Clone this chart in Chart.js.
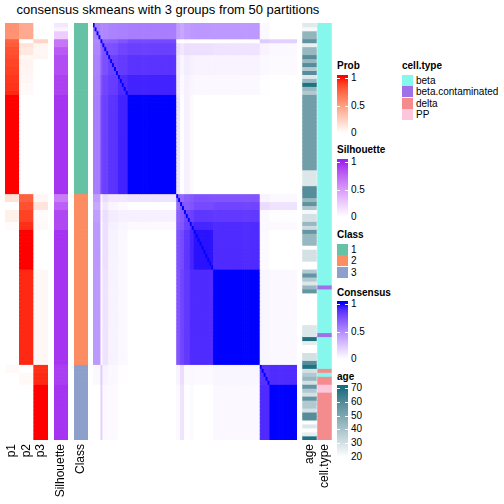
<!DOCTYPE html>
<html>
<head>
<meta charset="utf-8">
<script src="https://cdn.jsdelivr.net/npm/chart.js@4.4.1/dist/chart.umd.min.js"></script>
<style>
  body { margin: 0; background: #fff; font-family: "Liberation Sans", Arial, sans-serif; }
  #wrap { position: relative; width: 504px; height: 504px; overflow: hidden; }
  canvas { position: absolute; }
  .lt { position: absolute; font-size: 10px; font-weight: bold; line-height: 12px; white-space: nowrap; }
  .ll { position: absolute; font-size: 10px; line-height: 12px; white-space: nowrap; }
  .sw { position: absolute; }
</style>
</head>
<body>
<div id="wrap">
  <div style="position:absolute;left:0;top:2px;width:336px;text-align:center;font-size:13px;line-height:15px;">consensus skmeans with 3 groups from 50 partitions</div>
  <canvas id="probChart" width="43" height="481" style="left:5px;top:23px"></canvas>
  <canvas id="silChart" width="14" height="481" style="left:54px;top:23px"></canvas>
  <canvas id="classChart" width="14" height="481" style="left:74px;top:23px"></canvas>
  <canvas id="consensusChart" width="204" height="417" style="left:93px;top:23px"></canvas>
  <canvas id="annoChart" width="30" height="481" style="left:302px;top:23px"></canvas>
</div>
<script>
const rep = (v, n) => Array(n).fill(v);

// membership probabilities per sample (rows in display order)
const p1 = [.56, .56, .56, .56, .78, .8, .84, .84, .86, .88, .88, .9, .9, .92, .92, .93, .93, .95, ...rep(1, 25),
            .15, .15, 0, 0, .08, .08, .08, .02, .02, ...rep(0, 34),
            .03, .03, ...rep(0, 17)];
const p2 = [.44, .44, .44, .44, 0, .15, .12, .12, .04, .06, .06, .05, .05, .04, .04, .03, .03, .02, ...rep(0, 25),
            .78, .78, .84, .84, .89, .89, .89, .94, .94, ...rep(1, 10), ...rep(.95, 24),
            0, 0, .03, .03, .03, ...rep(0, 14)];
const p3 = [0, 0, 0, 0, .22, .05, .04, .04, .05, ...rep(0, 9), ...rep(0, 25),
            .04, .04, .14, .14, .02, .02, .02, .03, .03, ...rep(0, 10), ...rep(.04, 24),
            .94, .94, .95, .95, .95, ...rep(1, 14)];
const silhouette = [.12, .06, .25, .25, .68, .68, .8, .8, ...rep(.86, 5), ...rep(.9, 5), ...rep(.95, 25),
                    .65, .65, .78, .78, ...rep(.88, 5), ...rep(.95, 34),
                    ...rep(.92, 5), ...rep(.95, 14)];
const sampleClass = [...rep(1, 43), ...rep(2, 43), ...rep(3, 19)];
const age = [27, 22, 45, 45, 57, 25, 44, 44, 59, 44, 59, 38, 59, 28, 44, 69, 44, 38, ...rep(53, 19), 28, 28, 28, 28, 59, 59,
             59, 44, 57, 39, 22, 30, 30, 44, 32, 56, 44, 44, 44, 20, 30, 30, 30, 20, 20, 38, 56, 38, 28, 44, 56,
             ...rep(20, 8), 28, 28, 28, 69, 26, 20, 20, 30, 30, 59,
             69, 30, 38, 44, 30, 56, 38, 30, 56, 38, 38, 30, 59, 59, 20, 28, 20, 26, 69];
const cellType = [...rep("beta", 66), "beta.contaminated", ...rep("beta", 11), "beta.contaminated", ...rep("beta", 8),
                  "delta", "beta", "delta", "delta", "PP", "PP", ...rep("delta", 12)];

// consensus between blocks of consecutive samples
const blockSizes = [4, 1, 3, 5, 5, 25, 2, 2, 3, 2, 10, 24, 5, 14];
const blockConsensus = [
  [.55, .5, .52, .54, .55, .56, .42, .38, .42, .44, .45, .44, .03, 0],
  [.5, .8, .68, .7, .74, .78, .03, 0, .02, 0, 0, .01, .22, .2],
  [.52, .68, .75, .76, .8, .82, .15, .1, .14, .13, .13, .12, .05, .03],
  [.54, .7, .76, .82, .84, .87, .1, .04, .08, .06, .05, .05, .03, .02],
  [.55, .74, .8, .84, .9, .93, .1, .02, .06, .04, .03, .03, .01, 0],
  [.56, .78, .82, .87, .93, 1, .12, 0, .06, .02, 0, 0, 0, 0],
  [.42, .03, .15, .1, .1, .12, .7, .65, .7, .72, .75, .74, .05, .03],
  [.38, 0, .1, .04, .02, 0, .65, .75, .72, .74, .78, .8, .15, .12],
  [.42, .02, .14, .08, .06, .06, .7, .72, .8, .82, .86, .85, .03, .01],
  [.44, 0, .13, .06, .04, .02, .72, .74, .82, .88, .92, .9, .03, .02],
  [.45, 0, .13, .05, .03, 0, .75, .78, .86, .92, .97, .9, .02, 0],
  [.44, .01, .12, .05, .03, 0, .74, .8, .85, .9, .9, 1, .04, .03],
  [.03, .22, .05, .03, .01, 0, .05, .15, .03, .03, .02, .04, .88, .9],
  [0, .2, .03, .02, 0, 0, .03, .12, .01, .02, 0, .03, .9, 1]
];

const classColors = {1: "#66C2A5", 2: "#FC8D62", 3: "#8DA0CB"};
const cellTypeColors = {"beta": "#86F7EC", "beta.contaminated": "#A070E8", "delta": "#F48C8E", "PP": "#FDC6DC"};

// LAB colour ramps (like colorRamp2)
function hexToRgb(h) { h = h.replace("#", ""); return [0, 2, 4].map(i => parseInt(h.substr(i, 2), 16)); }
function lin(c) { c /= 255; return c <= 0.04045 ? c / 12.92 : Math.pow((c + 0.055) / 1.055, 2.4); }
function unlin(c) { c = c <= 0.0031308 ? 12.92 * c : 1.055 * Math.pow(c, 1 / 2.4) - 0.055; return Math.round(Math.max(0, Math.min(1, c)) * 255); }
function rgbToLab(rgb) {
  const [r, g, b] = rgb.map(lin);
  const x = (r * 0.4124 + g * 0.3576 + b * 0.1805) / 0.95047, y = r * 0.2126 + g * 0.7152 + b * 0.0722, z = (r * 0.0193 + g * 0.1192 + b * 0.9505) / 1.08883;
  const f = t => t > 0.008856 ? Math.cbrt(t) : 7.787 * t + 16 / 116;
  return [116 * f(y) - 16, 500 * (f(x) - f(y)), 200 * (f(y) - f(z))];
}
function labToRgb([L, a, b]) {
  const fy = (L + 16) / 116, fx = fy + a / 500, fz = fy - b / 200;
  const inv = t => t * t * t > 0.008856 ? t * t * t : (t - 16 / 116) / 7.787;
  const x = inv(fx) * 0.95047, y = inv(fy), z = inv(fz) * 1.08883;
  return [unlin(x * 3.2406 - y * 1.5372 - z * 0.4986), unlin(-x * 0.9689 + y * 1.8758 + z * 0.0415), unlin(x * 0.0557 - y * 0.2040 + z * 1.0570)];
}
function ramp(lo, hi, c0, c1) {
  const a = rgbToLab(hexToRgb(c0)), b = rgbToLab(hexToRgb(c1));
  return v => {
    const t = Math.max(0, Math.min(1, (v - lo) / (hi - lo)));
    return "rgb(" + labToRgb(a.map((x, i) => x + (b[i] - x) * t)).join(",") + ")";
  };
}
const probColor = ramp(0, 1, "#FFFFFF", "#FF0000");
const silColor = ramp(0, 1, "#FFFFFF", "#A020F0");
const consColor = ramp(0, 1, "#FFFFFF", "#0000FF");
const ageColor = ramp(20, 70, "#FFFFFF", "#156F80");

const N = sampleClass.length;
const blockOf = [];
blockSizes.forEach((n, b) => { for (let k = 0; k < n; k++) blockOf.push(b); });

const FONT = {family: '"Liberation Sans", Arial, sans-serif', size: 12};

function stripChart(id, labels, rowColors, showLabels, barPct) {
  const xScale = {stacked: true, display: false};
  if (showLabels) {
    Object.assign(xScale, {
      display: true,
      grid: {display: false, drawTicks: false},
      border: {display: false},
      ticks: {autoSkip: false, minRotation: 90, maxRotation: 90, padding: 4, color: "#000", font: FONT},
      afterFit: s => { s.height = 64; s.paddingLeft = 0; s.paddingRight = 0; }
    });
  }
  new Chart(document.getElementById(id), {
    type: "bar",
    data: {
      labels: labels,
      datasets: rowColors.map(cols => ({data: labels.map(() => 1), backgroundColor: cols}))
    },
    options: {
      responsive: false,
      animation: false,
      events: [],
      layout: {padding: 0},
      datasets: {bar: {categoryPercentage: 1, barPercentage: barPct || 1, borderWidth: 0, inflateAmount: 0.35}},
      plugins: {legend: {display: false}, tooltip: {enabled: false}},
      scales: {
        x: xScale,
        y: {stacked: true, display: false, reverse: true, min: 0, max: N}
      }
    }
  });
}

const rows = [...Array(N).keys()];
stripChart("probChart", ["p1", "p2", "p3"], rows.map(i => [probColor(p1[i]), probColor(p2[i]), probColor(p3[i])]), true);
stripChart("silChart", ["Silhouette"], rows.map(i => [silColor(silhouette[i])]), true);
stripChart("classChart", ["Class"], rows.map(i => [classColors[sampleClass[i]]]), true);
stripChart("annoChart", ["age", "cell.type"], rows.map(i => [ageColor(age[i]), cellTypeColors[cellType[i]]]), true, 0.92);
stripChart("consensusChart", rows.map(String),
  rows.map(i => rows.map(j => consColor(i === j ? 1 : blockConsensus[blockOf[i]][blockOf[j]]))), false);

// legends
const wrap = document.getElementById("wrap");
function put(cls, text, left, top, extra) {
  const d = document.createElement("div");
  d.className = cls;
  if (text !== null) d.textContent = text;
  d.style.left = left + "px";
  d.style.top = top + "px";
  Object.assign(d.style, extra || {});
  wrap.appendChild(d);
  return d;
}
function contLegend(title, titleY, yTop, yBot, values, colorFn) {
  put("lt", title, 337, titleY - 6);
  const vmax = values[0], vmin = values[values.length - 1];
  const stops = [];
  const h = yBot - yTop + 6;
  for (let y = 0; y <= h; y += 2) {
    const v = vmax - (y - 3) / (yBot - yTop) * (vmax - vmin);
    stops.push(colorFn(v) + " " + y + "px");
  }
  put("sw", null, 337, yTop - 3, {width: "11px", height: h + "px", background: "linear-gradient(to bottom," + stops.join(",") + ")"});
  values.forEach((v, k) => {
    const y = yTop + (yBot - yTop) * k / (values.length - 1);
    put("sw", null, 337, Math.round(y), {width: "3px", height: "1px", background: "#fff"});
    put("sw", null, 345, Math.round(y), {width: "3px", height: "1px", background: "#fff"});
    put("ll", String(v), 351, y - 6);
  });
}
function discLegend(title, x, titleY, boxTop, keys, colors) {
  put("lt", title, x, titleY - 6);
  keys.forEach((k, i) => {
    const y = boxTop + i * 11.3;
    put("sw", null, x, y, {width: "11px", height: "11px", background: colors[k]});
    put("ll", k, x + 14, y);
  });
}
contLegend("Prob", 66, 78, 133, [1, 0.5, 0], probColor);
contLegend("Silhouette", 150, 162, 217, [1, 0.5, 0], silColor);
discLegend("Class", 337, 235, 244, ["1", "2", "3"], classColors);
contLegend("Consensus", 293, 304, 359, [1, 0.5, 0], consColor);
contLegend("age", 377, 388, 457, [70, 60, 50, 40, 30, 20], ageColor);
discLegend("cell.type", 402, 66, 75, ["beta", "beta.contaminated", "delta", "PP"], cellTypeColors);
</script>
</body>
</html>
